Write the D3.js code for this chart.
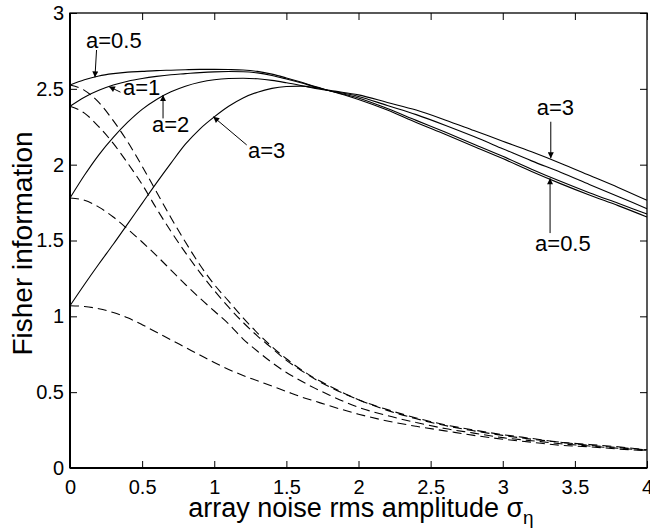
<!DOCTYPE html>
<html>
<head>
<meta charset="utf-8">
<script src="https://cdn.jsdelivr.net/npm/d3@7"></script>
<style>
  html, body { margin: 0; padding: 0; background: #fff; }
  svg { display: block; }
  text { font-family: "Liberation Sans", Arial, Helvetica, sans-serif; fill: #000; }
</style>
</head>
<body>
<svg id="chart" width="650" height="529"></svg>
<script>
// ---- data ----
const sigma = [0, 0.1, 0.2, 0.3, 0.4, 0.5, 0.6, 0.7, 0.8, 0.9, 1.0, 1.1, 1.2, 1.3, 1.4, 1.5, 1.6, 1.7, 1.8, 2.0, 2.2, 2.4, 2.6, 2.8, 3.0, 3.2, 3.4, 3.6, 3.8, 4.0];

// solid curves
const solidA05 = [2.525, 2.56, 2.585, 2.60, 2.61, 2.615, 2.62, 2.623, 2.626, 2.628, 2.628, 2.627, 2.624, 2.615, 2.597, 2.572, 2.545, 2.515, 2.487, 2.43, 2.36, 2.278, 2.20, 2.12, 2.04, 1.955, 1.875, 1.80, 1.73, 1.655];
const solidA1  = [2.385, 2.445, 2.49, 2.525, 2.55, 2.568, 2.582, 2.593, 2.60, 2.607, 2.612, 2.614, 2.613, 2.605, 2.588, 2.565, 2.54, 2.512, 2.487, 2.44, 2.37, 2.292, 2.215, 2.135, 2.055, 1.97, 1.89, 1.815, 1.745, 1.675];
const solidA2  = [1.78, 1.93, 2.065, 2.18, 2.28, 2.365, 2.43, 2.48, 2.517, 2.543, 2.56, 2.568, 2.57, 2.566, 2.556, 2.54, 2.522, 2.503, 2.487, 2.45, 2.39, 2.33, 2.26, 2.185, 2.105, 2.025, 1.95, 1.87, 1.79, 1.71];
const solidA3  = [1.07, 1.21, 1.345, 1.475, 1.61, 1.745, 1.88, 2.01, 2.135, 2.235, 2.315, 2.385, 2.44, 2.478, 2.503, 2.515, 2.518, 2.508, 2.49, 2.46, 2.41, 2.36, 2.295, 2.225, 2.155, 2.085, 2.01, 1.93, 1.85, 1.765];

// dashed curves
const dashedA05 = [2.525, 2.49, 2.41, 2.29, 2.15, 1.99, 1.82, 1.65, 1.49, 1.34, 1.21, 1.10, 0.99, 0.89, 0.80, 0.72, 0.65, 0.59, 0.54, 0.45, 0.385, 0.33, 0.285, 0.25, 0.22, 0.195, 0.17, 0.155, 0.14, 0.12];
const dashedA1  = [2.385, 2.34, 2.25, 2.14, 2.01, 1.87, 1.71, 1.56, 1.42, 1.29, 1.17, 1.06, 0.96, 0.87, 0.79, 0.71, 0.645, 0.585, 0.535, 0.45, 0.38, 0.325, 0.28, 0.245, 0.215, 0.19, 0.17, 0.15, 0.135, 0.12];
const dashedA2  = [1.78, 1.765, 1.72, 1.655, 1.575, 1.49, 1.40, 1.305, 1.21, 1.12, 1.035, 0.95, 0.85, 0.77, 0.695, 0.63, 0.575, 0.525, 0.48, 0.40, 0.345, 0.30, 0.26, 0.23, 0.20, 0.18, 0.16, 0.145, 0.13, 0.117];
const dashedA3  = [1.07, 1.065, 1.05, 1.025, 0.99, 0.945, 0.895, 0.845, 0.795, 0.745, 0.695, 0.65, 0.61, 0.575, 0.54, 0.505, 0.47, 0.44, 0.41, 0.355, 0.31, 0.275, 0.245, 0.215, 0.19, 0.17, 0.15, 0.14, 0.125, 0.115];

const xTicks = [0, 0.5, 1, 1.5, 2, 2.5, 3, 3.5, 4];
const yTicks = [0, 0.5, 1, 1.5, 2, 2.5, 3];

// annotation labels: text anchor (data), arrow start (data), arrow tip (data)
const annLabels = ["a=0.5", "a=1", "a=2", "a=3", "a=3", "a=0.5"];
const annText   = [[0.111, 2.769], [0.367, 2.459], [0.568, 2.217], [1.234, 2.042], [3.235, 2.327], [3.224, 1.433]];
const annFrom   = [[0.184, 2.756], [0.350, 2.478], [0.645, 2.305], [1.225, 2.130], [3.333, 2.283], [3.328, 1.549]];
const annTip    = [[0.173, 2.576], [0.270, 2.515], [0.645, 2.459], [0.993, 2.316], [3.333, 2.042], [3.328, 1.910]];

// ---- layout ----
const svg = d3.select("#chart");
const L = 70, R = 647, T = 13, B = 468;
const x = d3.scaleLinear().domain([0, 4]).range([L, R]);
const y = d3.scaleLinear().domain([0, 3]).range([B, T]);

svg.append("defs").append("marker")
  .attr("id", "arrow").attr("viewBox", "0 0 10 10")
  .attr("refX", 10).attr("refY", 5)
  .attr("markerWidth", 9).attr("markerHeight", 6)
  .attr("markerUnits", "userSpaceOnUse")
  .attr("orient", "auto")
  .append("path").attr("d", "M0,0 L10,5 L0,10 Z").attr("fill", "#000");

const line = d3.line()
  .x((d, i) => x(sigma[i]))
  .y(d => y(d))
  .curve(d3.curveMonotoneX);

const solids = [solidA05, solidA1, solidA2, solidA3];
const dashes = [dashedA05, dashedA1, dashedA2, dashedA3];

const g = svg.append("g");
g.selectAll("path.dashed").data(dashes).join("path")
  .attr("class", "dashed")
  .attr("d", line)
  .attr("fill", "none").attr("stroke", "#000")
  .attr("stroke-width", 1.1)
  .attr("stroke-dasharray", "9,5");
g.selectAll("path.solid").data(solids).join("path")
  .attr("class", "solid")
  .attr("d", line)
  .attr("fill", "none").attr("stroke", "#000")
  .attr("stroke-width", 1.1);

// axes (ticks inward, MATLAB-style box)
const tickLen = 7;
const fsTick = 20;
const axB = svg.append("g").attr("transform", `translate(0,${B})`)
  .call(d3.axisBottom(x).tickValues(xTicks).tickFormat(d3.format("")).tickSizeInner(-tickLen).tickSizeOuter(0).tickPadding(12));
const axT = svg.append("g").attr("transform", `translate(0,${T})`)
  .call(d3.axisTop(x).tickValues(xTicks).tickFormat("").tickSizeInner(-tickLen).tickSizeOuter(0));
const axL = svg.append("g").attr("transform", `translate(${L},0)`)
  .call(d3.axisLeft(y).tickValues(yTicks).tickFormat(d3.format("")).tickSizeInner(-tickLen).tickSizeOuter(0).tickPadding(6));
const axR = svg.append("g").attr("transform", `translate(${R},0)`)
  .call(d3.axisRight(y).tickValues(yTicks).tickFormat("").tickSizeInner(-tickLen).tickSizeOuter(0));

[axB, axT, axL, axR].forEach(a => {
  a.select(".domain").remove();
  a.selectAll(".tick line").attr("stroke", "#000").attr("stroke-width", 1);
  a.selectAll(".tick text").attr("font-size", fsTick)
    .attr("font-family", "'Liberation Sans', Arial, Helvetica, sans-serif").attr("fill", "#000");
});

// box
svg.append("rect").attr("x", L).attr("y", T).attr("width", R - L).attr("height", B - T)
  .attr("fill", "none").attr("stroke", "#000").attr("stroke-width", 1.3);
svg.append("line").attr("x1", L).attr("x2", R).attr("y1", B).attr("y2", B).attr("stroke", "#000").attr("stroke-width", 2);
svg.append("line").attr("x1", L).attr("x2", L).attr("y1", T).attr("y2", B).attr("stroke", "#000").attr("stroke-width", 2);

// annotations
const ann = svg.append("g");
annLabels.forEach((lab, i) => {
  ann.append("line")
    .attr("x1", x(annFrom[i][0])).attr("y1", y(annFrom[i][1]))
    .attr("x2", x(annTip[i][0])).attr("y2", y(annTip[i][1]))
    .attr("stroke", "#000").attr("stroke-width", 1)
    .attr("marker-end", "url(#arrow)");
  ann.append("text")
    .attr("x", x(annText[i][0])).attr("y", y(annText[i][1]))
    .attr("font-size", 22)
    .text(lab);
});

// axis titles
const xt = svg.append("text")
  .attr("x", 361).attr("y", 517)
  .attr("text-anchor", "middle")
  .attr("font-size", 27);
xt.append("tspan").text("array noise rms amplitude σ");
xt.append("tspan").attr("font-size", 19).attr("dy", 7).text("η");

svg.append("text")
  .attr("transform", `translate(32,${(T + B) / 2 + 3}) rotate(-90)`)
  .attr("text-anchor", "middle")
  .attr("font-size", 28)
  .text("Fisher information");
</script>
</body>
</html>
